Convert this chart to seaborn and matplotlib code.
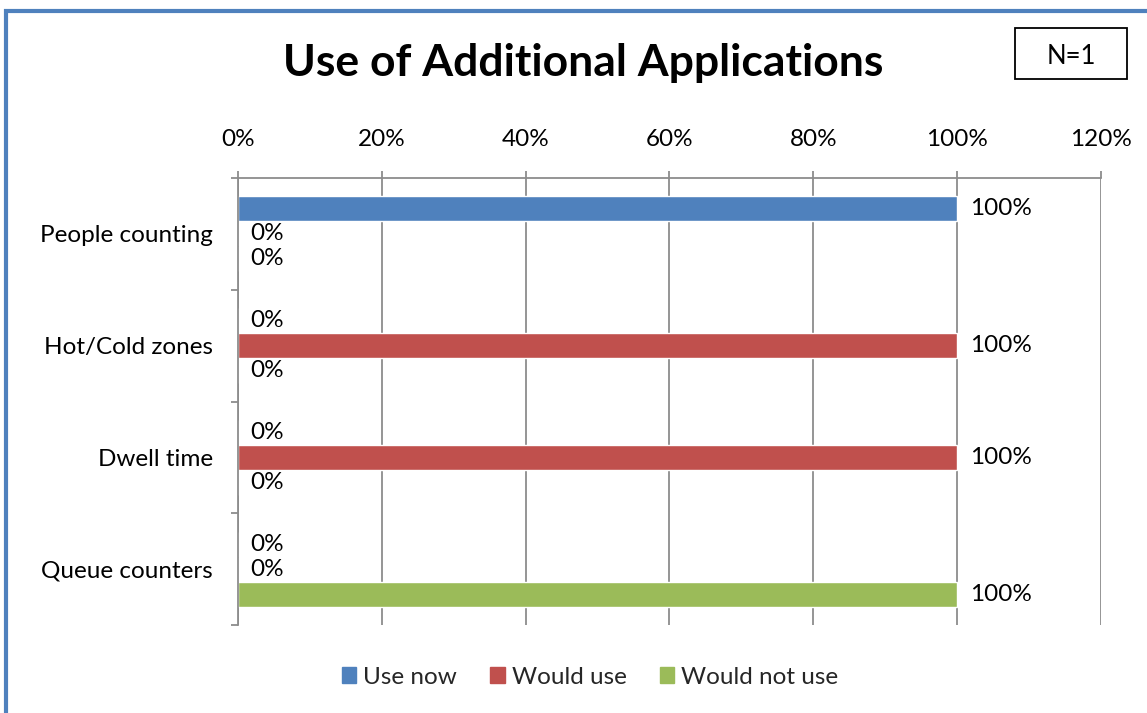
import matplotlib
matplotlib.use("Agg")
import matplotlib.pyplot as plt
import matplotlib.patches as mpatches
from matplotlib.ticker import FixedLocator, PercentFormatter
import seaborn as sns
import pandas as pd

categories = ["People counting", "Hot/Cold zones", "Dwell time", "Queue counters"]
series = ["Use now", "Would use", "Would not use"]
use_now = [100, 0, 0, 0]
would_use = [0, 100, 100, 0]
would_not_use = [0, 0, 0, 100]
x_ticks = [0, 20, 40, 60, 80, 100, 120]
colors = ["#4F81BD", "#C0504D", "#9BBB59"]

rows = []
for name, vals in zip(series, [use_now, would_use, would_not_use]):
    for cat, v in zip(categories, vals):
        rows.append({"Application": cat, "Response": name, "Share": v})
df = pd.DataFrame(rows)

sns.set_theme(style="white")
plt.rcParams["font.family"] = ["Lato", "DejaVu Sans"]

fig = plt.figure(figsize=(11.47, 7.13), dpi=100)
ax = fig.add_axes([238 / 1147, 1 - 625 / 713, (1101 - 238) / 1147, (625 - 178) / 713])

sns.barplot(data=df, y="Application", x="Share", hue="Response", order=categories,
            hue_order=series, palette=colors, orient="h", width=0.67,
            saturation=1, ax=ax, legend=False, errorbar=None)

for cont in ax.containers:
    ax.bar_label(cont, labels=[f"{int(round(b.get_width()))}%" for b in cont],
                 padding=9, fontsize=17.5, color="black")

ax.set_xlim(0, 120)
ax.set_ylim(len(categories) - 0.5, -0.5)
ax.xaxis.set_major_locator(FixedLocator(x_ticks))
ax.xaxis.set_major_formatter(PercentFormatter(decimals=0))
ax.xaxis.tick_top()
ax.set_xlabel("")
ax.set_ylabel("")
ax.grid(axis="x", color="#8C8C8C", linewidth=1.3)
ax.grid(axis="y", visible=False)
ax.set_axisbelow(True)

for side in ["right", "bottom"]:
    ax.spines[side].set_visible(False)
for side in ["top", "left"]:
    ax.spines[side].set_visible(True)
    ax.spines[side].set_color("#8C8C8C")
    ax.spines[side].set_linewidth(1.3)

ax.tick_params(axis="x", which="major", direction="out", length=5, width=1.3,
               color="#8C8C8C", pad=15, labelsize=17.5, labelcolor="black", top=True)
ax.yaxis.set_minor_locator(FixedLocator([i - 0.5 for i in range(len(categories) + 1)]))
ax.tick_params(axis="y", which="major", length=0, pad=18, labelsize=17.5, labelcolor="black")
ax.tick_params(axis="y", which="minor", direction="out", length=5, width=1.3,
               color="#8C8C8C", left=True)

handles = [mpatches.Patch(color=c, label=s) for c, s in zip(colors, series)]
fig.legend(handles=handles, loc="center", bbox_to_anchor=(590 / 1147, 1 - 677 / 713),
           ncol=3, frameon=False, fontsize=17.5, handlelength=0.6, handleheight=0.6,
           handletextpad=0.3, columnspacing=1.35)

fig.text(583 / 1147, 1 - 63 / 713, "Use of Additional Applications", ha="center",
         va="center", fontsize=32, fontweight="bold", color="black")

# N label box
fig.patches.append(mpatches.Rectangle((1015 / 1147, 1 - 79 / 713), 112 / 1147, 51 / 713,
                                      transform=fig.transFigure, fill=False,
                                      edgecolor="black", linewidth=1.3))
fig.text(1071 / 1147, 1 - 56 / 713, "N=1", ha="center", va="center", fontsize=18.5,
         color="black")

# outer chart frame
fig.patches.append(mpatches.Rectangle((6 / 1147, -0.05), 1.2, 1.05 - 11 / 713,
                                      transform=fig.transFigure, fill=False,
                                      edgecolor="#4F81BD", linewidth=3))

fig.savefig("out.png", dpi=100, facecolor="white")
